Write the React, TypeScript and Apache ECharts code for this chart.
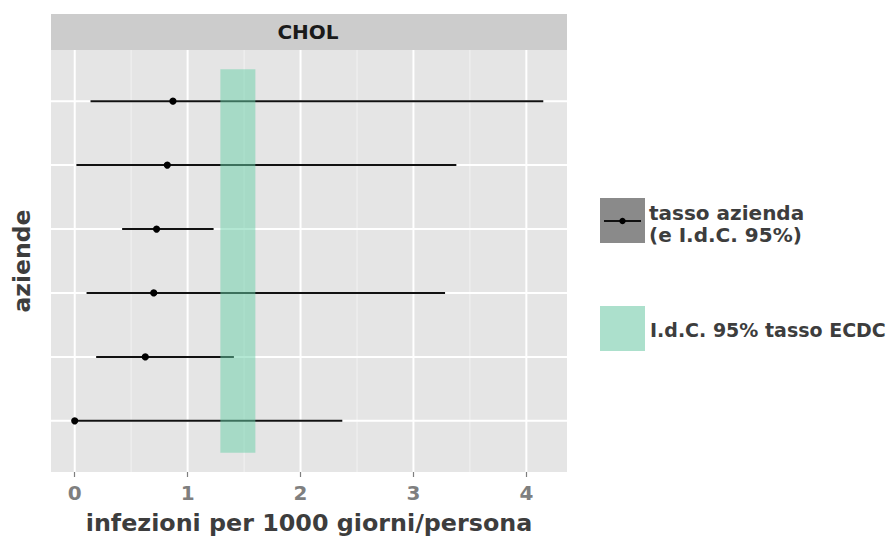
import React, { useEffect, useRef } from "react";
import * as echarts from "echarts";

// Facility rates (per 1000 patient-days) with 95% confidence limits, top row first
const rowPos = [6, 5, 4, 3, 2, 1];
const rate = [0.87, 0.82, 0.725, 0.7, 0.625, 0];
const lower = [0.14, 0.015, 0.42, 0.105, 0.19, 0];
const upper = [4.15, 3.38, 1.23, 3.28, 1.41, 2.37];

// ECDC reference rate 95% confidence interval
const ecdcLow = 1.29;
const ecdcHigh = 1.6;
const bandRows = [0.5, 6.5];

// Axis ticks and grid positions
const xTicks = [0, 1, 2, 3, 4];
const xMinor = [0.5, 1.5, 2.5, 3.5];
const xRange = [-0.21, 4.36];
const yRange = [0.2, 6.8];

const FONT = "'DejaVu Sans', sans-serif";

export default function App() {
  const ref = useRef<HTMLDivElement>(null);

  useEffect(() => {
    if (!ref.current) return;
    const chart = echarts.init(ref.current, undefined, { renderer: "svg" });

    const vLine = (color: string, width: number) => (params: any, api: any) => {
      const cs = params.coordSys;
      const x = api.coord([api.value(0), yRange[0]])[0];
      return {
        type: "line",
        shape: { x1: x, y1: cs.y, x2: x, y2: cs.y + cs.height },
        style: { stroke: color, lineWidth: width },
        silent: true,
      };
    };
    const hLine = (color: string, width: number) => (params: any, api: any) => {
      const cs = params.coordSys;
      const y = api.coord([xRange[0], api.value(1)])[1];
      return {
        type: "line",
        shape: { x1: cs.x, y1: y, x2: cs.x + cs.width, y2: y },
        style: { stroke: color, lineWidth: width },
        silent: true,
      };
    };

    const legendText = (text: string, x: number, y: number, size: number) => ({
      type: "text",
      x,
      y,
      style: {
        text,
        fontFamily: FONT,
        fontWeight: "bold",
        fontSize: size,
        fill: "#3d3d3d",
        align: "left",
        verticalAlign: "middle",
      },
    });

    const option: any = {
      animation: false,
      backgroundColor: "#ffffff",
      grid: {
        left: 51,
        right: 326,
        top: 50,
        bottom: 71,
        show: true,
        backgroundColor: "#e5e5e5",
        borderWidth: 0,
        containLabel: false,
        outerBoundsMode: "none",
      },
      xAxis: {
        type: "value",
        min: xRange[0],
        max: xRange[1],
        name: "infezioni per 1000 giorni/persona",
        nameLocation: "middle",
        nameGap: 39,
        nameTextStyle: {
          fontFamily: FONT,
          fontWeight: "bold",
          fontSize: 23.8,
          color: "#3d3d3d",
        },
        axisLine: { show: false },
        splitLine: { show: false },
        axisTick: {
          show: true,
          customValues: xTicks,
          length: 5,
          lineStyle: { color: "#7f7f7f", width: 1.2 },
        },
        axisLabel: {
          customValues: xTicks,
          margin: 11,
          fontFamily: FONT,
          fontWeight: "bold",
          fontSize: 20,
          color: "#7f7f7f",
        },
      },
      yAxis: {
        type: "value",
        min: yRange[0],
        max: yRange[1],
        name: "aziende",
        nameLocation: "middle",
        nameRotate: 90,
        nameGap: 17,
        nameTextStyle: {
          fontFamily: FONT,
          fontWeight: "bold",
          fontSize: 23.5,
          color: "#3d3d3d",
        },
        axisLine: { show: false },
        axisTick: { show: false },
        axisLabel: { show: false },
        splitLine: { show: false },
      },
      series: [
        {
          type: "custom",
          name: "minor",
          data: xMinor.map((v) => [v, yRange[0]]),
          encode: { x: 0, y: 1 },
          renderItem: vLine("#f2f2f2", 1),
          silent: true,
          z: 1,
        },
        {
          type: "custom",
          name: "major",
          data: xTicks.map((v) => [v, yRange[0]]),
          encode: { x: 0, y: 1 },
          renderItem: vLine("#ffffff", 2),
          silent: true,
          z: 1,
        },
        {
          type: "custom",
          name: "rows",
          data: rowPos.map((p) => [xRange[0], p]),
          encode: { x: 0, y: 1 },
          renderItem: hLine("#ffffff", 2),
          silent: true,
          z: 1,
        },
        {
          type: "custom",
          name: "tasso azienda",
          data: rate.map((r, i) => [r, rowPos[i], lower[i], upper[i]]),
          encode: { x: 0, y: 1 },
          renderItem: (params: any, api: any) => {
            const y = api.value(1);
            const p = api.coord([api.value(0), y]);
            const a = api.coord([api.value(2), y]);
            const b = api.coord([api.value(3), y]);
            return {
              type: "group",
              children: [
                {
                  type: "line",
                  shape: { x1: a[0], y1: a[1], x2: b[0], y2: b[1] },
                  style: { stroke: "#111111", lineWidth: 2 },
                },
                {
                  type: "circle",
                  shape: { cx: p[0], cy: p[1], r: 3.6 },
                  style: { fill: "#000000" },
                },
              ],
            };
          },
          z: 2,
        },
        {
          type: "custom",
          name: "I.d.C. 95% tasso ECDC",
          data: [[ecdcLow, bandRows[0], ecdcHigh, bandRows[1]]],
          encode: { x: [0, 2], y: [1, 3] },
          renderItem: (params: any, api: any) => {
            const p0 = api.coord([api.value(0), api.value(3)]);
            const p1 = api.coord([api.value(2), api.value(1)]);
            return {
              type: "rect",
              shape: { x: p0[0], y: p0[1], width: p1[0] - p0[0], height: p1[1] - p0[1] },
              style: { fill: "rgba(103,207,167,0.5)" },
            };
          },
          z: 3,
        },
      ],
      graphic: [
        {
          type: "rect",
          shape: { x: 51, y: 14, width: 516, height: 36 },
          style: { fill: "#cccccc" },
          silent: true,
        },
        {
          type: "text",
          x: 308,
          y: 32,
          style: {
            text: "CHOL",
            fontFamily: FONT,
            fontWeight: "bold",
            fontSize: 20,
            fill: "#1a1a1a",
            align: "center",
            verticalAlign: "middle",
          },
        },
        {
          type: "rect",
          shape: { x: 600, y: 198, width: 45, height: 45 },
          style: { fill: "#8a8a8a" },
        },
        {
          type: "line",
          shape: { x1: 604, y1: 221, x2: 641, y2: 221 },
          style: { stroke: "#111111", lineWidth: 1.8 },
        },
        {
          type: "circle",
          shape: { cx: 622.5, cy: 221, r: 3.2 },
          style: { fill: "#000000" },
        },
        legendText("tasso azienda", 649, 213, 20),
        legendText("(e I.d.C. 95%)", 649, 235, 20),
        {
          type: "rect",
          shape: { x: 600, y: 306, width: 45, height: 45 },
          style: { fill: "#ace0cc" },
        },
        legendText("I.d.C. 95% tasso ECDC", 650, 330, 19),
      ],
    };

    chart.setOption(option);
    return () => chart.dispose();
  }, []);

  return (
    <div
      ref={ref}
      style={{ position: "absolute", left: 0, top: 0, width: 893, height: 543 }}
    />
  );
}
